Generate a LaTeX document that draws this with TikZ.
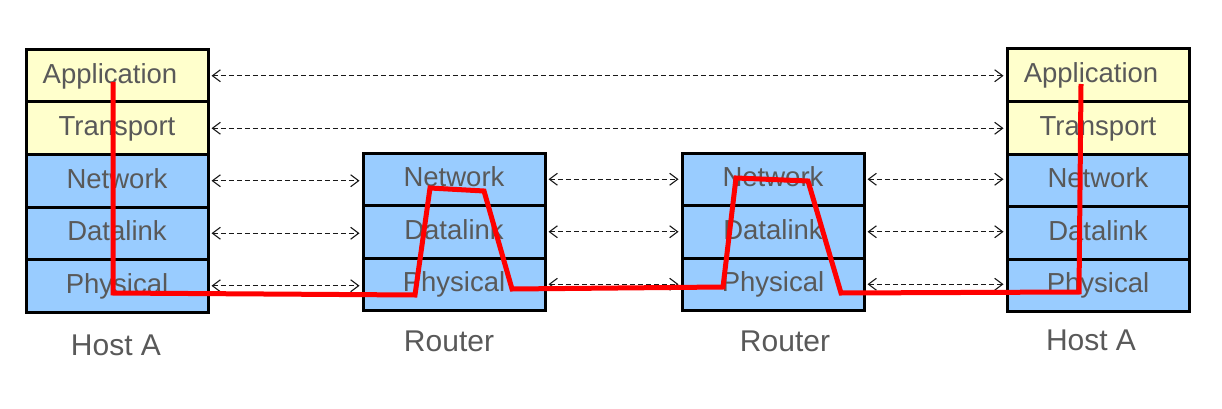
\documentclass[tikz,border=0pt]{standalone}
\usepackage{fontspec}
\setmainfont{Liberation Sans}
\usetikzlibrary{arrows.meta}
\definecolor{yel}{HTML}{FFFFCC}
\definecolor{blu}{HTML}{99CCFF}
\definecolor{txt}{HTML}{595959}
\definecolor{pathred}{HTML}{FF0000}
\begin{document}
\begin{tikzpicture}[x=1pt,y=-1pt,
  layer/.style={draw=black, line width=3pt, minimum width=182pt, minimum height=52.5pt,
    inner sep=0pt, text=txt, font=\fontsize{27.5}{30}\selectfont, text height=20pt, text depth=5pt},
  ylayer/.style={layer, fill=yel},
  blayer/.style={layer, fill=blu},
  peer/.style={draw=black!90, line width=1.1pt, dash pattern=on 5pt off 3pt,
    {Straight Barb[length=8pt,width=12pt]}-{Straight Barb[length=8pt,width=12pt]},
    shorten <=2pt, shorten >=2pt},
  caption/.style={text=txt, font=\fontsize{30}{34}\selectfont, anchor=base, inner sep=0pt},
  flow/.style={draw=pathred, line width=5pt, line join=miter}
]
\useasboundingbox (0,0) rectangle (1222,409);
% Host A (left)
\node[ylayer] (a1) at (117,75.75) {\hspace*{-14pt}Application};
\node[ylayer] (a2) at (117,128.25) {Transport};
\node[blayer] (a3) at (117,180.75) {Network};
\node[blayer] (a4) at (117,233.25) {Datalink};
\node[blayer] (a5) at (117,285.75) {Physical};
% Router 1
\node[blayer] (r3) at (454,179.25) {Network};
\node[blayer] (r4) at (454,231.75) {Datalink};
\node[blayer] (r5) at (454,284.25) {Physical};
% Router 2
\node[blayer] (s3) at (773,179.25) {Network};
\node[blayer] (s4) at (773,231.75) {Datalink};
\node[blayer] (s5) at (773,284.25) {Physical};
% Host A (right)
\node[ylayer] (b1) at (1098,75.25) {\hspace*{-14pt}Application};
\node[ylayer] (b2) at (1098,127.75) {Transport};
\node[blayer] (b3) at (1098,180.25) {Network};
\node[blayer] (b4) at (1098,232.75) {Datalink};
\node[blayer] (b5) at (1098,285.25) {Physical};
% captions
\node[caption] (ca) at (116,355) {Host A};
\node[caption] (cr) at (449,351) {Router};
\node[caption] (cs) at (785,351) {Router};
\node[caption] (cb) at (1091,350) {Host A};
% peer arrows
\draw[peer] (a1.east) -- (a1.east -| b1.west);
\draw[peer] (a2.east) -- (a2.east -| b2.west);
\draw[peer] (a3.east) -- (a3.east -| r3.west);
\draw[peer] (a4.east) -- (a4.east -| r4.west);
\draw[peer] (a5.east) -- (a5.east -| r5.west);
\draw[peer] (r3.east) -- (r3.east -| s3.west);
\draw[peer] (r4.east) -- (r4.east -| s4.west);
\draw[peer] (r5.east) -- (r5.east -| s5.west);
\draw[peer] (s3.east) -- (s3.east -| b3.west);
\draw[peer] (s4.east) -- (s4.east -| b4.west);
\draw[peer] (s5.east) -- (s5.east -| b5.west);
% data flow path
\draw[flow] (113,82) -- (113,293) -- (415,295) -- (430,188) -- (484,191) -- (512,289)
  -- (723,287) -- (736,178) -- (808,181) -- (841,293) -- (1079,292) -- (1081,84);
\end{tikzpicture}
\end{document}
